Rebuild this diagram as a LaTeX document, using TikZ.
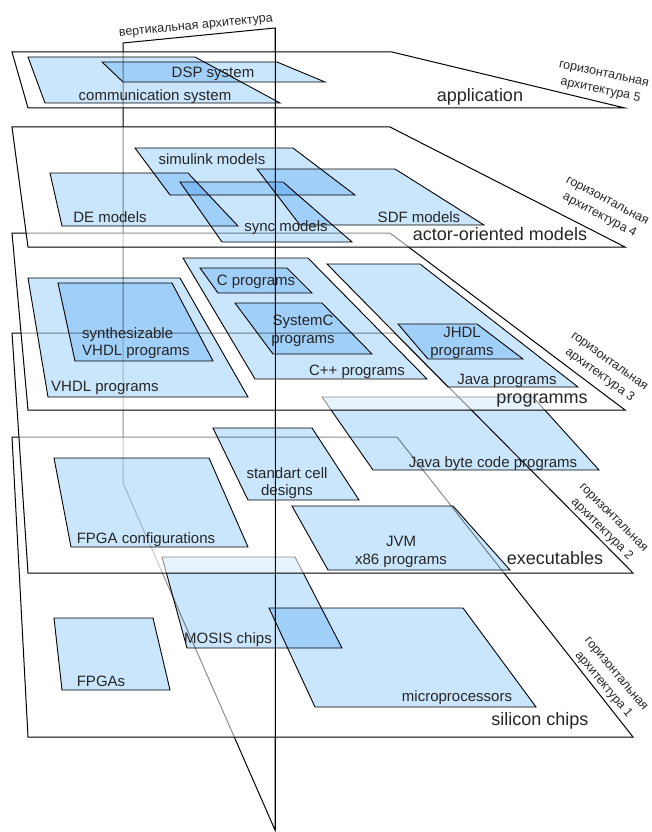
\documentclass[tikz,border=0pt]{standalone}
\usepackage{fontspec}
\setmainfont{Liberation Sans}
\usetikzlibrary{positioning}

\definecolor{layerblue}{RGB}{202,230,252}

\tikzset{
    plane/.style={draw=black, line width=1pt, fill=white, fill opacity=0.55},
    block/.style={draw=black, line width=0.9pt, fill=layerblue, blend mode=multiply},
    blab/.style={font=\fontsize{15}{17.5}\selectfont, text=black!85, inner sep=0pt, align=center},
    plab/.style={font=\fontsize{18}{20}\selectfont, text=black!85, inner sep=0pt},
    hlab/.style={font=\fontsize{12.5}{16.5}\selectfont, text=black!85, inner sep=0pt, align=center},
}

\begin{document}
\begin{tikzpicture}[x=1pt, y=-1pt]
    \useasboundingbox (0,0) rectangle (652,832);

    % vertical plane
    \coordinate (v1) at (123,43);
    \coordinate (v2) at (275,28);
    \coordinate (v3) at (275,830);
    \coordinate (v4) at (123,483);
    \draw[line width=1pt] (v1) -- (v2) -- (v3) -- (v4) -- cycle;

    % level 1: silicon chips
    \draw[plane] (12,437) -- (397,437) -- (633,737) -- (28,737) -- cycle;
    \draw[block] (54,618) -- (153,618) -- (170,690) -- (62,690) -- cycle;
    \draw[block] (162,557) -- (295,557) -- (342,648) -- (187,648) -- cycle;
    \draw[block] (269,608) -- (463,608) -- (536,707) -- (315,707) -- cycle;
    \node[blab] (fpga) at (101,681) {FPGAs};
    \node[blab] (mosis) at (228,640) {MOSIS chips};
    \node[blab] (micro) at (457,698) {microprocessors};
    \node[plab] (silicon) at (540,721) {silicon chips};

    % level 2: executables
    \draw[plane] (12,333) -- (395,333) -- (633,573) -- (28,573) -- cycle;
    \draw[block] (322,397) -- (533,397) -- (599,470) -- (373,470) -- cycle;
    \draw[block] (213,428) -- (312,428) -- (359,500) -- (248,500) -- cycle;
    \draw[block] (54,458) -- (209,458) -- (248,547) -- (71,547) -- cycle;
    \draw[block] (292,506) -- (453,506) -- (510,570) -- (328,570) -- cycle;
    \node[blab] (jbc) at (493,464) {Java byte code programs};
    \node[blab] (cell) at (287,483) {standart cell\\designs};
    \node[blab] (fpgaconf) at (146,540) {FPGA configurations};
    \node[blab] (jvm) at (401,552) {JVM\\x86 programs};
    \node[plab] (exec) at (555,558) {executables};

    % level 3: programms
    \draw[plane] (12,233) -- (390,233) -- (625,410) -- (28,410) -- cycle;
    \draw[block] (28,278) -- (180,278) -- (248,397) -- (48,397) -- cycle;
    \draw[block] (58,283) -- (172,283) -- (213,361) -- (75,361) -- cycle;
    \draw[block] (183,258) -- (308,258) -- (427,379) -- (255,379) -- cycle;
    \draw[block] (200,268) -- (287,268) -- (312,293) -- (218,293) -- cycle;
    \draw[block] (235,303) -- (322,303) -- (372,354) -- (273,354) -- cycle;
    \draw[block] (327,264) -- (420,264) -- (578,387) -- (448,387) -- cycle;
    \draw[block] (398,324) -- (477,324) -- (523,359) -- (428,359) -- cycle;
    \node[blab] (vhdl) at (105,388) {VHDL programs};
    \node[blab, align=left] (synth) at (136,343) {synthesizable\\VHDL programs};
    \node[blab] (cprog) at (256,282) {C programs};
    \node[blab] (sysc) at (303,331) {SystemC\\programs};
    \node[blab] (cpp) at (357,372) {C++ programs};
    \node[blab] (jhdl) at (462,343) {JHDL\\programs};
    \node[blab] (java) at (507,381) {Java programs};
    \node[plab] (prog) at (542,401) {programms};

    % level 4: actor-oriented models
    \draw[plane] (12,127) -- (390,127) -- (625,247) -- (28,247) -- cycle;
    \draw[block] (135,148) -- (293,148) -- (355,195) -- (170,195) -- cycle;
    \draw[block] (50,173) -- (188,173) -- (238,226) -- (62,226) -- cycle;
    \draw[block] (180,182) -- (283,182) -- (352,242) -- (222,242) -- cycle;
    \draw[block] (257,169) -- (395,169) -- (484,225) -- (300,225) -- cycle;
    \node[blab] (simulink) at (212,159) {simulink models};
    \node[blab] (de) at (110,217) {DE models};
    \node[blab] (sync) at (286,228) {sync models};
    \node[blab] (sdf) at (419,217) {SDF models};
    \node[plab] (actor) at (500,234) {actor-oriented models};

    % level 5: application
    \draw[plane] (12,52) -- (392,52) -- (625,108) -- (28,108) -- cycle;
    \draw[block] (28,57) -- (195,57) -- (280,103) -- (45,103) -- cycle;
    \draw[block] (102,62) -- (277,62) -- (325,82) -- (123,82) -- cycle;
    \node[blab] (comm) at (155,97) {communication system};
    \node[blab] (dsp) at (213,74) {DSP system};
    \node[plab] (app) at (480,97) {application};

    % front edge of the vertical plane
    \draw[line width=1pt] (v2) -- (v3);
    \node[hlab, rotate=5.5] (vert) at (196,27) {вертикальная архитектура};

    % side labels
    \foreach \n/\x/\y/\a in {5/602/83/-12, 4/603/209/-28, 3/604/369/-36, 2/607/524/-45, 1/609/680/-50}
        \node[hlab, rotate=\a] (hor\n) at (\x,\y) {горизонтальная\\архитектура \n};
\end{tikzpicture}
\end{document}
